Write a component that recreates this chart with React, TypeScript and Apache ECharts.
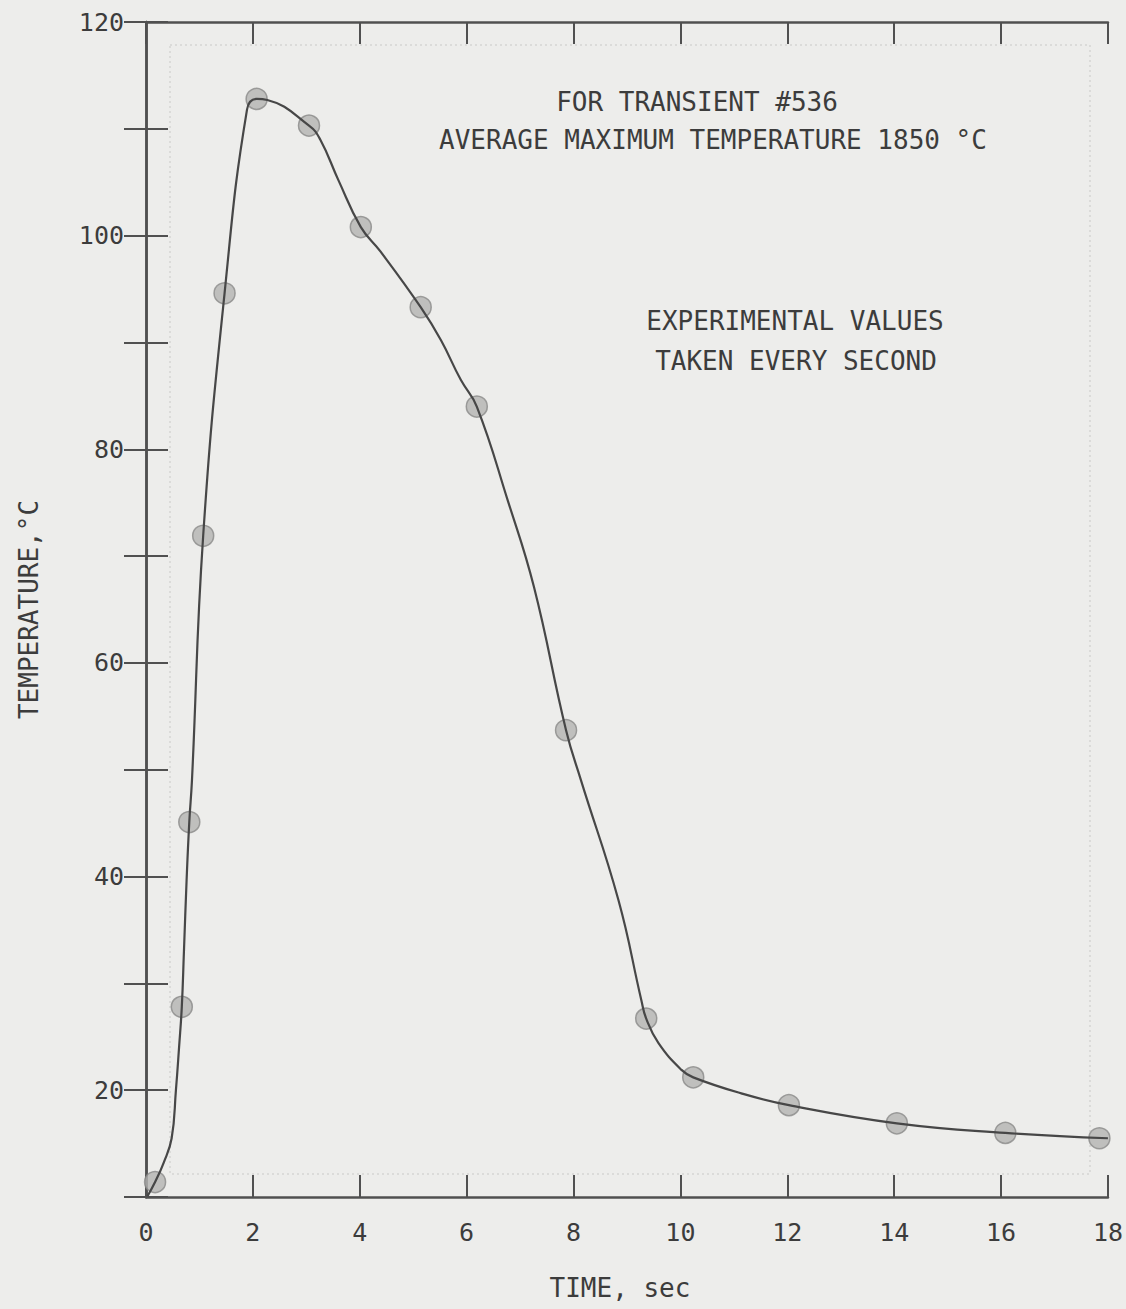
import React, { useEffect, useRef } from "react";
import * as echarts from "echarts";

// Experimental points (time in s, temperature in °C)
const markerTime = [0.17, 0.67, 0.81, 1.07, 1.47, 2.07, 3.05, 4.02, 5.14, 6.19, 7.86, 9.36, 10.24, 12.03, 14.05, 16.08, 17.84];
const markerTemp = [11.4, 27.8, 45.1, 71.9, 94.6, 112.8, 110.3, 100.8, 93.3, 84.0, 53.7, 26.7, 21.2, 18.6, 16.9, 16.0, 15.5];

// Hand-drawn fitted curve
const curveTime = [0.03, 0.17, 0.33, 0.48, 0.56, 0.62, 0.67, 0.71, 0.76, 0.81, 0.86, 1.07, 1.47, 1.89, 2.07, 2.27, 3.05, 3.26, 3.6, 4.02, 4.39, 5.14, 5.52, 5.89, 6.19, 6.77, 7.26, 7.86, 8.14, 8.84, 9.27, 9.36, 9.59, 10.02, 10.24, 11.14, 12.03, 14.05, 16.08, 18.0];
const curveTemp = [10.1, 11.4, 13.2, 15.5, 20.0, 24.1, 27.8, 33.0, 39.7, 45.1, 49.0, 71.9, 94.6, 111.8, 112.8, 112.7, 110.3, 109.0, 105.2, 100.8, 98.5, 93.3, 90.2, 86.5, 84.0, 75.2, 67.1, 53.7, 49.0, 37.8, 28.4, 26.7, 24.4, 21.9, 21.2, 19.7, 18.6, 16.9, 16.0, 15.5];

const xTicks = { min: 0, max: 18, interval: 2 };
const yTicks = { min: 10, max: 120, interval: 10, labelEvery: 20 };

const annotations = [
  { text: "FOR TRANSIENT #536", x: 697, y: 102 },
  { text: "AVERAGE MAXIMUM TEMPERATURE 1850 °C", x: 713, y: 140 },
  { text: "EXPERIMENTAL VALUES", x: 795, y: 321 },
  { text: "TAKEN EVERY SECOND", x: 796, y: 361 },
];

const FONT = "'DejaVu Sans Mono', 'Liberation Mono', monospace";
const INK = "#3c3c3c";
const FRAME = "#505050";

export default function App() {
  const ref = useRef<HTMLDivElement>(null);
  useEffect(() => {
    if (!ref.current) return;
    const chart = echarts.init(ref.current, null, { renderer: "svg" });
    const axisLine = { show: true, lineStyle: { color: FRAME, width: 2.5 } };
    const tick = { show: true, inside: true, length: 22, lineStyle: { color: FRAME, width: 2 } };
    chart.setOption({
      animation: false,
      backgroundColor: "#ededeb",
      grid: { left: 146, right: 18, top: 22, bottom: 112 },
      xAxis: [
        {
          type: "value",
          position: "bottom",
          min: xTicks.min,
          max: xTicks.max,
          interval: xTicks.interval,
          axisLine,
          axisTick: tick,
          splitLine: { show: false },
          axisLabel: { color: INK, fontFamily: FONT, fontSize: 25, margin: 23 },
          name: "TIME, sec",
          nameLocation: "middle",
          nameGap: 78,
          nameTextStyle: { color: INK, fontFamily: FONT, fontSize: 26, padding: [0, 14, 0, 0] },
        },
        {
          type: "value",
          position: "top",
          min: xTicks.min,
          max: xTicks.max,
          interval: xTicks.interval,
          axisLine,
          axisTick: tick,
          splitLine: { show: false },
          axisLabel: { show: false },
        },
      ],
      yAxis: [
        {
          type: "value",
          position: "left",
          min: yTicks.min,
          max: yTicks.max,
          interval: yTicks.interval,
          axisLine,
          axisTick: tick,
          splitLine: { show: false },
          axisLabel: {
            color: INK,
            fontFamily: FONT,
            fontSize: 25,
            margin: 22,
            formatter: (v: number) => (v % yTicks.labelEvery === 0 ? String(v) : ""),
          },
          name: "TEMPERATURE,°C",
          nameLocation: "middle",
          nameGap: 104,
          nameTextStyle: { color: INK, fontFamily: FONT, fontSize: 26 },
        },
        {
          type: "value",
          position: "right",
          min: yTicks.min,
          max: yTicks.max,
          interval: yTicks.interval,
          axisLine,
          axisTick: tick,
          splitLine: { show: false },
          axisLabel: { show: false },
        },
      ],
      graphic: [
        {
          type: "rect",
          silent: true,
          shape: { x: 170, y: 45, width: 920, height: 1129 },
          style: { fill: "none", stroke: "#c9c9c7", lineWidth: 1, lineDash: [2, 3] },
          z: 0,
        },
        ...annotations.map((a) => ({
          type: "text",
          x: a.x,
          y: a.y,
          style: {
            text: a.text,
            fill: INK,
            fontFamily: FONT,
            fontSize: 26,
            textAlign: "center",
            textVerticalAlign: "middle",
          },
        })),
      ],
      series: [
        {
          type: "scatter",
          name: "Experimental values",
          data: markerTime.map((t, i) => [t, markerTemp[i]]),
          symbol: "circle",
          symbolSize: 21,
          itemStyle: { color: "#b3b3b1", borderColor: "#8a8a88", borderWidth: 1.5 },
          z: 2,
        },
        {
          type: "line",
          name: "Fitted curve",
          data: curveTime.map((t, i) => [t, curveTemp[i]]),
          showSymbol: false,
          smooth: 0.45,
          lineStyle: { color: "#474747", width: 2.2 },
          z: 3,
        },
      ],
    });
    return () => chart.dispose();
  }, []);
  return (
    <div
      ref={ref}
      style={{ position: "absolute", left: 0, top: 0, width: 1126, height: 1309 }}
    />
  );
}
